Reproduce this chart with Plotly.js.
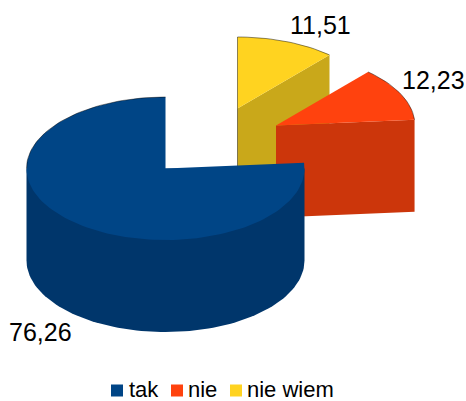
<!DOCTYPE html>
<html><head><meta charset="utf-8">
<script src="https://cdn.plot.ly/plotly-3.0.1.min.js"></script>
<style>html,body{margin:0;padding:0;background:#fff}#c{width:466px;height:401px}</style>
</head><body><div id="c"></div>
<script>
const categories = ['tak', 'nie', 'nie wiem'];
const values = [76.26, 12.23, 11.51];
const valueLabels = ['76,26', '12,23', '11,51'];
const topColors = ['#004586', '#ff420e', '#ffd320'];
const sideColors = ['#00366b', '#cc360b', '#c9a81a'];
const centerX = [165.5, 276, 237.5];
const centerY = [168.5, 125.5, 108.5];
const labelX = [40, 433, 320];
const labelY = [332, 80, 25];
const legendX = [117, 177, 236];
const legendTextX = [129, 188, 247];
const legendMarkerY = 390.5;
const legendTextY = 391;
const RX = 139, RY = 71.5, DEPTH = 92, START = 90;

const rad = d => d * Math.PI / 180;
function arc(i, a0, a1, dy) {
  const n = Math.max(2, Math.ceil(Math.abs(a1 - a0) / 2)), xs = [], ys = [];
  for (let k = 0; k <= n; k++) {
    const a = rad(a0 + (a1 - a0) * k / n);
    xs.push(centerX[i] + RX * Math.cos(a));
    ys.push(centerY[i] - RY * Math.sin(a) + (dy || 0));
  }
  return [xs, ys];
}
function area(x, y, color) {
  return {type: 'scatter', mode: 'lines', x, y, fill: 'toself', fillcolor: color,
    line: {width: 0, color}, showlegend: false, hoverinfo: 'skip'};
}
function edge(x, y) {
  return {type: 'scatter', mode: 'lines', x, y, line: {width: 0.9, color: 'rgba(0,0,0,0.5)'},
    showlegend: false, hoverinfo: 'skip'};
}
const total = values.reduce((a, b) => a + b, 0);
let angle = START;
const spans = values.map(v => { const s = [angle, angle + v / total * 360]; angle = s[1]; return s; });

function sliceTraces(i) {
  const [a0, a1] = spans[i], out = [];
  const [tx, ty] = arc(i, a0, a1);
  const cx = centerX[i], cy = centerY[i];
  if (i === 0) {
    const [bx, by] = arc(i, 360, 180, DEPTH);
    out.push(area([cx - RX, cx + RX].concat(bx), [cy, cy].concat(by), sideColors[i]));
    out.push(area([cx].concat(tx, [cx]), [cy].concat(ty, [cy]), topColors[i]));
    const [ex, ey] = arc(i, 90, 180);
    out.push(edge(ex, ey));
  } else {
    out.push(area([cx, tx[0], tx[0], cx], [cy, ty[0], ty[0] + DEPTH, cy + DEPTH], sideColors[i]));
    out.push(area([cx].concat(tx, [cx]), [cy].concat(ty, [cy]), topColors[i]));
    out.push(edge(tx, ty));
    if (i === 2) out.push(edge([cx, cx], [ty[ty.length - 1], cy + DEPTH]));
  }
  return out;
}
const legendMarkers = categories.map((c, i) => ({
  type: 'scatter', mode: 'markers', x: [legendX[i]], y: [legendMarkerY],
  marker: {symbol: 'square', size: 12, color: topColors[i]},
  name: c, showlegend: false, hoverinfo: 'skip', cliponaxis: false
}));
const legendTexts = {
  type: 'scatter', mode: 'text', x: legendTextX, y: categories.map(() => legendTextY), text: categories,
  textposition: 'middle right', textfont: {size: 22, color: '#000'},
  showlegend: false, hoverinfo: 'skip', cliponaxis: false
};
const data = [...sliceTraces(2), ...sliceTraces(1), ...sliceTraces(0), ...legendMarkers, legendTexts];

const layout = {
  width: 466, height: 401, margin: {l: 0, r: 0, t: 0, b: 0},
  paper_bgcolor: '#fff', plot_bgcolor: '#fff',
  font: {family: '"Liberation Sans", Arial, sans-serif', color: '#000'},
  xaxis: {range: [0, 466], visible: false, fixedrange: true},
  yaxis: {range: [401, 0], visible: false, fixedrange: true},
  showlegend: false, hovermode: false,
  annotations: valueLabels.map((t, i) => ({
    x: labelX[i], y: labelY[i], xref: 'x', yref: 'y', text: t, showarrow: false,
    font: {size: 25, color: '#000'}
  }))
};
Plotly.newPlot('c', data, layout, {displayModeBar: false, staticPlot: true});
</script></body></html>
